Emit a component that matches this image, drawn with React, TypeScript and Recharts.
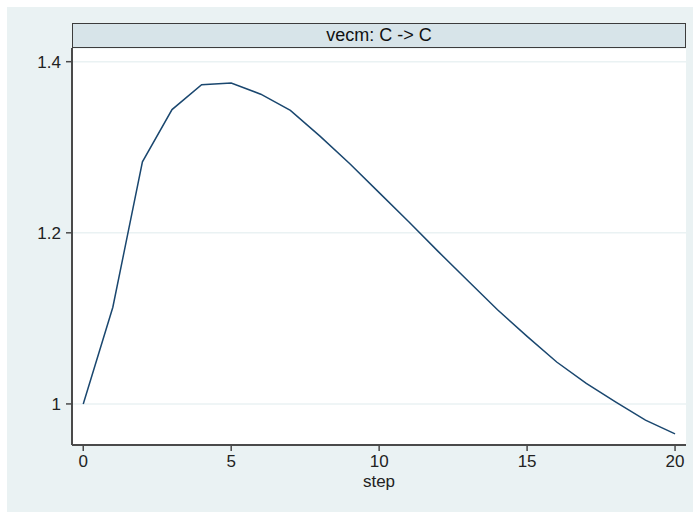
import { LineChart, Line, XAxis, YAxis, CartesianGrid } from "recharts";

// impulse response, vecm: C -> C
const steps = [0, 1, 2, 3, 4, 5, 6, 7, 8, 9, 10, 11, 12, 13, 14, 15, 16, 17, 18, 19, 20];
const irf = [
  1.0, 1.113, 1.283, 1.344, 1.373, 1.375, 1.362, 1.343, 1.313, 1.281, 1.247,
  1.213, 1.178, 1.144, 1.11, 1.079, 1.049, 1.024, 1.002, 0.981, 0.965,
];
const xTicks = [0, 5, 10, 15, 20];
const yTicks = [1, 1.2, 1.4];

const data = steps.map((s, i) => ({ step: s, irf: irf[i] }));

const FONT = "'Liberation Sans', Arial, sans-serif";
const AXIS = "#4a4a4a";

const App = () => {
  return (
    <div
      style={{
        position: "absolute",
        left: 0,
        top: 0,
        width: 693,
        height: 512,
        background: "#fff",
        fontFamily: FONT,
      }}
    >
      <div
        style={{
          position: "absolute",
          left: 7,
          top: 7,
          width: 686,
          height: 505,
          background: "#EAF2F3",
        }}
      />
      <div style={{ position: "absolute", left: 0, top: 0 }}>
        <LineChart
          width={693}
          height={512}
          data={data}
          margin={{ top: 48, right: 7, left: 0, bottom: 17 }}
        >
          <CartesianGrid
            vertical={false}
            fill="#ffffff"
            stroke="#EAF2F3"
            strokeWidth={1.5}
          />
          <XAxis
            dataKey="step"
            type="number"
            domain={[-0.38, 20.37]}
            ticks={xTicks}
            allowDataOverflow
            height={50}
            tickSize={6}
            tickMargin={4}
            stroke={AXIS}
            axisLine={{ stroke: AXIS, strokeWidth: 2 }}
            tickLine={{ stroke: AXIS, strokeWidth: 1.5 }}
            tick={{ fill: "#222", fontSize: 17, fontFamily: FONT }}
            label={{
              value: "step",
              position: "insideBottom",
              offset: 8,
              fill: "#222",
              fontSize: 17,
              fontFamily: FONT,
            }}
          />
          <YAxis
            type="number"
            domain={[0.952, 1.416]}
            ticks={yTicks}
            allowDataOverflow
            width={72}
            tickSize={6}
            tickMargin={5}
            axisLine={{ stroke: AXIS, strokeWidth: 2 }}
            tickLine={{ stroke: AXIS, strokeWidth: 1.5 }}
            tick={{ fill: "#222", fontSize: 17, fontFamily: FONT }}
          />
          <Line
            dataKey="irf"
            type="linear"
            stroke="#1A476F"
            strokeWidth={1.5}
            dot={false}
            isAnimationActive={false}
          />
        </LineChart>
      </div>
      <div
        style={{
          position: "absolute",
          left: 72,
          top: 23,
          width: 614,
          height: 25,
          boxSizing: "border-box",
          border: "1.5px solid #3c3c3c",
          background: "#D7E4E9",
          textAlign: "center",
          fontSize: 18,
          lineHeight: "22px",
          color: "#111",
        }}
      >
        vecm: C -&gt; C
      </div>
    </div>
  );
};

export default App;
